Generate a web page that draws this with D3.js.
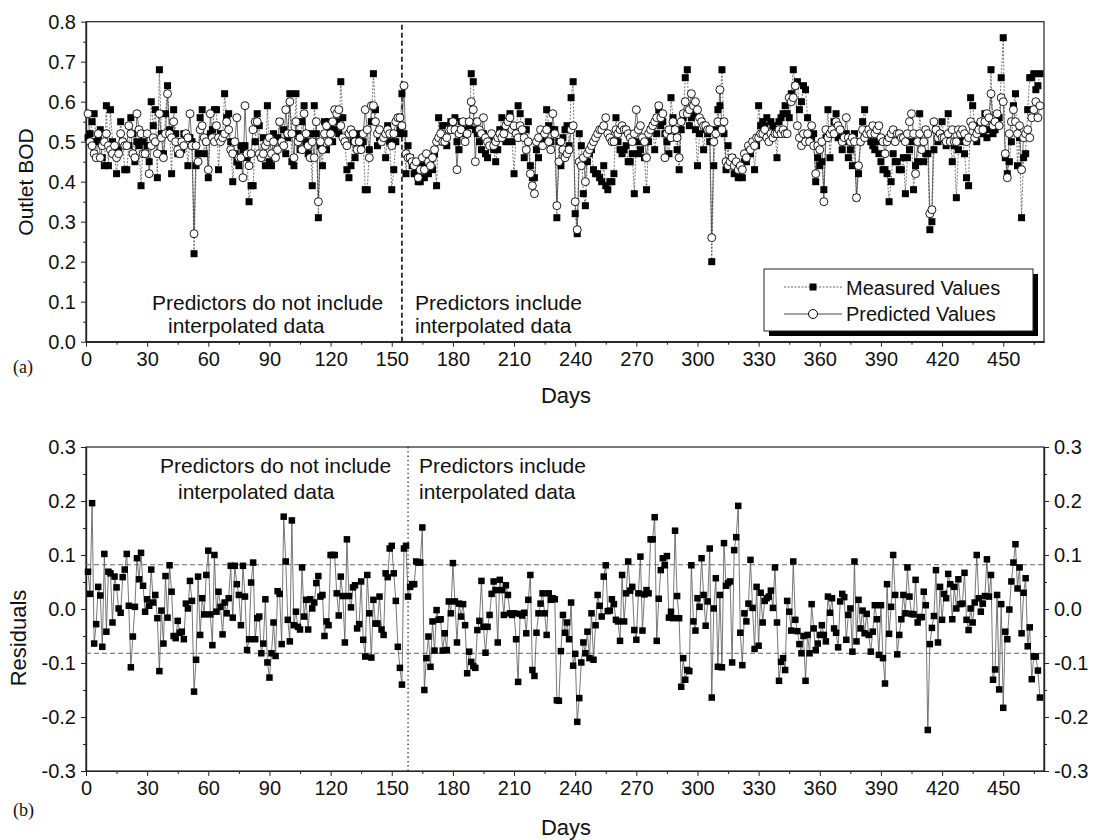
<!DOCTYPE html>
<html>
<head>
<meta charset="utf-8">
<script src="https://cdn.jsdelivr.net/npm/d3@7"></script>
<style>
body { margin: 0; background: #fff; }
svg text { font-family: "Liberation Sans", Arial, sans-serif; fill: #111; }
</style>
</head>
<body>
<div id="chart"></div>
<script>
// outlet BOD, one value per day (day 1 .. 468)
const measured = [
  .51,.52,.55,.57,.50,.51,.53,.46,.44,.59, .44,.58,.50,.47,.42,.48,.55,.50,.43,.43,
  .49,.56,.52,.45,.50,.49,.39,.50,.47,.49, .45,.60,.54,.58,.41,.68,.52,.47,.57,.64,
  .53,.42,.58,.52,.47,.47,.48,.52,.51,.44, .51,.50,.22,.44,.47,.56,.58,.47,.50,.41,
  .52,.53,.58,.58,.43,.52,.51,.62,.56,.57, .50,.40,.47,.45,.44,.49,.48,.49,.46,.35,
  .39,.39,.50,.57,.54,.46,.51,.44,.59,.45, .44,.52,.47,.51,.55,.50,.53,.47,.51,.62,
  .45,.44,.62,.52,.48,.55,.59,.50,.47,.52, .39,.59,.52,.31,.49,.44,.55,.48,.55,.53,
  .50,.53,.55,.52,.65,.56,.50,.43,.41,.44, .50,.46,.51,.52,.49,.50,.38,.38,.48,.55,
  .67,.58,.49,.51,.52,.51,.46,.54,.50,.38, .43,.50,.52,.53,.62,.52,.42,.49,.46,.44,
  .42,.43,.40,.40,.44,.41,.44,.42,.45,.43, .47,.39,.56,.50,.54,.54,.49,.53,.55,.54,
  .56,.50,.48,.55,.52,.53,.52,.54,.67,.65, .53,.52,.50,.48,.52,.47,.46,.50,.49,.48,
  .45,.48,.53,.56,.52,.50,.55,.57,.50,.42, .52,.59,.57,.51,.46,.53,.55,.44,.41,.41,
  .48,.46,.50,.50,.52,.58,.54,.50,.53,.53, .31,.50,.44,.51,.53,.54,.49,.61,.65,.32,
  .27,.52,.49,.37,.34,.45,.47,.48,.43,.42, .42,.41,.40,.44,.39,.38,.40,.40,.42,.56,
  .50,.48,.47,.48,.49,.45,.45,.47,.37,.50, .47,.48,.50,.46,.38,.50,.53,.54,.48,.52,
  .58,.54,.55,.52,.50,.47,.61,.56,.51,.48, .43,.53,.56,.66,.68,.54,.56,.57,.53,.44,
  .52,.55,.48,.53,.52,.50,.20,.44,.53,.58, .59,.68,.52,.43,.49,.44,.46,.42,.44,.41,
  .43,.41,.45,.45,.48,.47,.50,.43,.49,.59, .54,.55,.54,.56,.51,.55,.54,.53,.46,.55,
  .56,.57,.59,.57,.56,.62,.68,.64,.65,.58, .60,.64,.63,.56,.51,.51,.52,.40,.46,.44,
  .45,.38,.51,.58,.46,.52,.55,.57,.51,.53, .48,.50,.52,.46,.48,.44,.52,.36,.42,.50,
  .55,.58,.53,.52,.50,.49,.48,.50,.47,.45, .43,.43,.42,.35,.40,.47,.45,.45,.43,.43,
  .46,.37,.46,.48,.50,.38,.44,.45,.57,.50, .45,.47,.47,.28,.30,.48,.53,.50,.52,.55,
  .51,.49,.57,.50,.45,.49,.36,.48,.50,.51, .47,.41,.39,.61,.59,.54,.50,.52,.53,.52,
  .57,.51,.53,.68,.52,.53,.55,.56,.66,.76, .46,.42,.45,.50,.59,.62,.44,.51,.31,.46,
  .47,.58,.66,.66,.67,.63,.64,.67
];
const predicted = [
  .57,.50,.49,.47,.46,.52,.46,.49,.50,.52, .49,.48,.47,.49,.46,.47,.52,.50,.49,.49,
  .54,.52,.47,.46,.57,.53,.52,.47,.47,.52, .42,.49,.51,.50,.47,.57,.51,.46,.52,.62,
  .52,.51,.55,.50,.48,.47,.50,.49,.52,.51, .57,.49,.27,.49,.45,.53,.54,.51,.50,.43,
  .57,.51,.50,.54,.51,.50,.51,.52,.55,.53, .48,.47,.50,.56,.46,.46,.41,.59,.47,.44,
  .47,.53,.55,.55,.47,.46,.47,.49,.50,.51, .47,.50,.46,.48,.55,.50,.49,.58,.52,.60,
  .52,.46,.55,.50,.51,.48,.57,.52,.49,.46, .50,.46,.55,.35,.50,.48,.52,.54,.50,.52,
  .55,.58,.57,.58,.54,.51,.50,.49,.52,.53, .52,.50,.48,.50,.48,.52,.58,.53,.46,.59,
  .59,.55,.52,.53,.50,.51,.52,.53,.52,.49, .52,.55,.56,.56,.54,.64,.47,.46,.46,.45,
  .44,.45,.41,.43,.46,.43,.47,.45,.44,.46, .48,.50,.51,.52,.50,.50,.51,.53,.53,.55,
  .53,.43,.52,.53,.55,.50,.52,.55,.60,.58, .45,.55,.53,.52,.56,.51,.50,.49,.52,.49,
  .50,.51,.52,.51,.52,.54,.55,.56,.53,.54, .52,.51,.54,.53,.51,.48,.50,.42,.39,.37,
  .50,.51,.53,.49,.52,.53,.50,.48,.57,.52, .34,.45,.50,.48,.46,.47,.48,.53,.54,.35,
  .28,.45,.44,.46,.40,.47,.48,.49,.50,.51, .52,.53,.53,.54,.56,.52,.51,.50,.50,.53,
  .52,.53,.54,.53,.53,.52,.51,.50,.52,.58, .53,.54,.51,.50,.46,.52,.53,.54,.55,.56,
  .59,.56,.57,.46,.52,.53,.51,.55,.53,.51, .46,.55,.57,.60,.57,.58,.62,.59,.60,.58,
  .56,.55,.54,.54,.53,.53,.26,.50,.52,.55, .63,.53,.55,.45,.44,.45,.46,.44,.45,.43,
  .44,.43,.47,.46,.49,.48,.50,.49,.51,.51, .52,.52,.53,.51,.50,.52,.51,.52,.52,.53,
  .52,.53,.52,.52,.61,.60,.61,.64,.54,.51, .49,.52,.50,.52,.50,.54,.49,.42,.49,.48,
  .50,.35,.53,.51,.52,.53,.52,.55,.54,.53, .50,.51,.56,.51,.50,.51,.50,.36,.44,.50,
  .53,.51,.52,.53,.52,.54,.52,.53,.54,.51, .50,.47,.50,.51,.52,.53,.50,.52,.52,.51,
  .51,.50,.52,.55,.57,.52,.42,.50,.52,.48, .50,.53,.52,.32,.33,.55,.53,.51,.52,.51,
  .51,.50,.52,.50,.53,.50,.50,.53,.52,.53, .52,.50,.51,.55,.54,.51,.52,.53,.55,.53,
  .55,.57,.56,.62,.54,.55,.57,.54,.61,.60, .47,.41,.52,.55,.58,.55,.52,.54,.43,.51,
  .52,.53,.51,.56,.58,.60,.56,.59
];
const residuals = [
  .069,.028,.196,-.064,-.028,.041,.025,-.07,.102,-.042, .069,.066,-.025,.06,.04,.001,-.007,.059,.073,.102,
  .006,-.108,-.051,.004,.094,.055,.104,.043,-.005,.018, .006,.073,.012,.026,-.017,-.115,-.003,-.064,.061,-.016,
  .081,.032,-.05,-.054,-.022,-.044,-.042,-.056,.01,.001, .052,.015,-.153,-.094,.06,-.048,.02,-.01,.063,.108,
  -.01,-.067,.1,-.005,.032,.004,-.047,.012,-.008,.02, .08,-.016,.08,.046,.026,-.03,.08,.023,-.076,-.056,
  .049,.086,-.056,-.017,-.014,-.082,-.064,.018,-.099,-.127, -.082,-.025,-.087,.033,.028,-.065,.171,.088,-.02,-.06,
  .164,-.03,-.005,-.033,-.038,.077,-.014,.017,-.038,.018, .001,.012,.048,.061,.023,.026,-.05,-.023,-.03,.1,
  .1,.1,.029,-.012,.06,.024,-.062,.129,.024,.003, .04,.044,-.036,-.028,.051,-.057,-.088,.063,-.008,-.09,
  .017,-.027,-.027,.023,-.038,-.048,.066,.059,.112,.117, .066,.015,-.07,-.109,-.14,.112,.117,.023,.041,.046,
  .046,.088,.086,.086,.151,-.15,-.091,-.051,-.107,-.023, -.077,-.002,-.02,-.019,-.077,-.045,-.076,.014,-.008,.085,
  .014,-.062,.01,-.014,.009,-.03,-.119,-.079,-.098,-.106, -.109,-.039,-.022,.052,-.033,-.081,-.033,-.011,.028,.051,
  .035,-.062,.054,.035,-.011,.044,.026,-.008,-.011,-.008, -.056,-.135,-.009,-.012,-.007,-.045,.017,.063,-.113,-.124,
  -.044,-.008,.01,.029,-.008,-.048,.029,.017,.02,.018, -.169,-.17,-.078,-.011,-.044,-.025,-.056,.012,-.105,-.083,
  -.209,-.165,-.099,-.062,-.082,-.042,-.091,-.008,-.094,-.03, .026,.006,-.014,.06,.081,-.004,-.003,.018,.009,-.02,
  -.023,-.059,.063,-.023,.029,.088,.034,.041,-.039,-.057, .029,.097,-.04,.027,.035,.029,.129,.129,.17,-.059,
  .019,.072,.094,.081,.098,-.016,-.005,-.017,.145,.024, -.017,-.144,-.091,-.131,-.113,-.115,.081,-.023,-.04,.02,
  .004,.094,.026,-.031,.014,.112,-.164,.001,.057,-.107, .026,-.108,.122,.043,.048,.051,-.099,.109,.133,.191,
  -.044,-.104,-.008,-.023,.01,.091,.002,-.074,.041,-.068, .03,-.025,.015,.02,.023,.034,.002,.077,-.025,-.133,
  -.098,-.091,-.113,.015,-.005,-.04,.088,-.02,-.041,-.065, -.082,-.05,-.133,-.048,-.082,.009,-.036,-.076,-.064,-.048,
  -.03,-.048,-.06,.023,-.007,.02,-.036,-.044,-.071,.014, .028,.022,-.057,-.011,.001,-.079,.088,-.06,.017,-.036,
  -.003,-.045,-.009,-.048,-.079,-.042,.007,-.019,-.085,.007, -.091,-.138,.046,-.046,.004,.1,.026,-.084,-.048,-.019,
  .026,-.008,.077,.023,-.009,-.01,.054,-.025,-.015,-.015, .032,.007,-.224,-.065,-.035,-.013,.072,-.062,.041,-.02,
  .028,.02,.065,.046,-.019,.041,.001,.055,.009,.01, .067,-.02,-.039,.001,-.025,.012,.1,.02,-.005,.01,
  .024,.092,.023,.063,-.131,-.112,.026,-.149,.009,-.183, -.042,-.056,-.001,.051,.086,.12,.038,.077,-.045,.03,
  .057,-.069,-.034,-.13,-.088,-.088,-.114,-.164
];

const xTicks = [0, 30, 60, 90, 120, 150, 180, 210, 240, 270, 300, 330, 360, 390, 420, 450];
const yTopTicks = [0, 0.1, 0.2, 0.3, 0.4, 0.5, 0.6, 0.7, 0.8];
const yBotTicks = [-0.3, -0.2, -0.1, 0, 0.1, 0.2, 0.3];
const splitTop = 155;      // dashed divider, panel (a)
const splitBottom = 158;   // dotted divider, panel (b)
const resLimit = 0.082;    // dashed control limits, panel (b)
const seriesNames = ["Measured Values", "Predicted Values"];

const width = 1093, height = 840;
const svg = d3.select("#chart").append("svg")
    .attr("width", width)
    .attr("height", height);

const x = d3.scaleLinear().domain([0, 470]).range([86, 1044]);
const yTop = d3.scaleLinear().domain([0, 0.8]).range([341.7, 21.7]);
const yBot = d3.scaleLinear().domain([-0.3, 0.3]).range([771, 447]);
const fmt = d => d.toFixed(1);
const day = (d, i) => i + 1;

function styleAxis(g) {
    g.selectAll("text").style("font-size", "20px").attr("fill", "#111");
    g.selectAll("line").attr("stroke", "#222");
    g.select(".domain").attr("stroke", "#222").attr("stroke-width", 1.2);
}

function frame(yScale) {
    svg.append("rect")
        .attr("x", x.range()[0]).attr("y", yScale.range()[1])
        .attr("width", x.range()[1] - x.range()[0])
        .attr("height", yScale.range()[0] - yScale.range()[1])
        .attr("fill", "none").attr("stroke", "#222").attr("stroke-width", 1.2);
}

function xAxes(yScale) {
    const y0 = yScale.range()[0];
    svg.append("g").attr("transform", `translate(0,${y0})`)
        .call(d3.axisBottom(x).tickValues(d3.range(15, 470, 30)).tickSize(3).tickFormat("").tickSizeOuter(0))
        .call(styleAxis);
    svg.append("g").attr("transform", `translate(0,${y0})`)
        .call(d3.axisBottom(x).tickValues(xTicks).tickSize(5).tickPadding(5).tickFormat(d3.format("d")).tickSizeOuter(0))
        .call(styleAxis);
}

function yAxis(yScale, ticks, side) {
    const minor = d3.range(ticks.length - 1).map(i => (ticks[i] + ticks[i + 1]) / 2);
    const xp = side === "left" ? x.range()[0] : x.range()[1];
    const mk = side === "left" ? d3.axisLeft : d3.axisRight;
    svg.append("g").attr("transform", `translate(${xp},0)`)
        .call(mk(yScale).tickValues(minor).tickSize(3).tickFormat("").tickSizeOuter(0))
        .call(styleAxis);
    svg.append("g").attr("transform", `translate(${xp},0)`)
        .call(mk(yScale).tickValues(ticks).tickSize(5).tickPadding(5).tickFormat(fmt).tickSizeOuter(0))
        .call(styleAxis);
}

// ---------- panel (a)
frame(yTop);
xAxes(yTop);
yAxis(yTop, yTopTicks, "left");

svg.append("line")
    .attr("x1", x(splitTop)).attr("x2", x(splitTop))
    .attr("y1", yTop.range()[1] + 3).attr("y2", yTop.range()[0])
    .attr("stroke", "#111").attr("stroke-width", 1.6).attr("stroke-dasharray", "5,3");

const lineTop = d3.line().x((d, i) => x(day(d, i))).y(d => yTop(d));

svg.append("path").datum(measured)
    .attr("d", lineTop).attr("fill", "none")
    .attr("stroke", "#555").attr("stroke-width", 0.8).attr("stroke-dasharray", "2,1.5");
svg.append("path").datum(predicted)
    .attr("d", lineTop).attr("fill", "none")
    .attr("stroke", "#333").attr("stroke-width", 0.7);

const sq = 7;
svg.append("g").selectAll("rect").data(measured).join("rect")
    .attr("x", (d, i) => x(day(d, i)) - sq / 2)
    .attr("y", d => yTop(d) - sq / 2)
    .attr("width", sq).attr("height", sq)
    .attr("fill", "#000");

svg.append("g").selectAll("circle").data(predicted).join("circle")
    .attr("cx", (d, i) => x(day(d, i)))
    .attr("cy", d => yTop(d))
    .attr("r", 4)
    .attr("fill", "#fff").attr("stroke", "#000").attr("stroke-width", 0.9);

svg.append("text").attr("transform", "translate(33,182) rotate(-90)")
    .attr("text-anchor", "middle").style("font-size", "21px").text("Outlet BOD");
svg.append("text").attr("x", 566).attr("y", 403)
    .attr("text-anchor", "middle").style("font-size", "22px").text("Days");
svg.append("text").attr("x", 13).attr("y", 373)
    .style("font-family", "'Liberation Serif', 'Times New Roman', serif").style("font-size", "18px").text("(a)");

svg.append("text").attr("x", 152).attr("y", 310).style("font-size", "21px").text("Predictors do not include");
svg.append("text").attr("x", 168).attr("y", 333).style("font-size", "21px").text("interpolated data");
svg.append("text").attr("x", 415).attr("y", 310).style("font-size", "21px").text("Predictors include");
svg.append("text").attr("x", 415).attr("y", 333).style("font-size", "21px").text("interpolated data");

// legend
const lg = svg.append("g").attr("transform", "translate(764,269)");
lg.append("rect").attr("x", 5).attr("y", 5).attr("width", 269).attr("height", 62).attr("fill", "#000");
lg.append("rect").attr("width", 269).attr("height", 62).attr("fill", "#fff").attr("stroke", "#222").attr("stroke-width", 1);
lg.append("line").attr("x1", 20).attr("x2", 78).attr("y1", 18).attr("y2", 18)
    .attr("stroke", "#555").attr("stroke-width", 0.9).attr("stroke-dasharray", "2,1.5");
lg.append("rect").attr("x", 49 - sq / 2).attr("y", 18 - sq / 2).attr("width", sq).attr("height", sq).attr("fill", "#000");
lg.append("line").attr("x1", 20).attr("x2", 78).attr("y1", 45).attr("y2", 45)
    .attr("stroke", "#333").attr("stroke-width", 0.9);
lg.append("circle").attr("cx", 49).attr("cy", 45).attr("r", 4.5)
    .attr("fill", "#fff").attr("stroke", "#000").attr("stroke-width", 1);
lg.selectAll("text.lab").data(seriesNames).join("text")
    .attr("class", "lab")
    .attr("x", 82).attr("y", (d, i) => 26 + i * 26)
    .style("font-size", "20px").text(d => d);

// ---------- panel (b)
frame(yBot);
xAxes(yBot);
yAxis(yBot, yBotTicks, "left");
yAxis(yBot, yBotTicks, "right");

[resLimit, -resLimit].forEach(v => {
    svg.append("line")
        .attr("x1", x.range()[0]).attr("x2", x.range()[1])
        .attr("y1", yBot(v)).attr("y2", yBot(v))
        .attr("stroke", "#666").attr("stroke-width", 1).attr("stroke-dasharray", "5,3");
});

svg.append("line")
    .attr("x1", x(splitBottom)).attr("x2", x(splitBottom))
    .attr("y1", yBot.range()[1]).attr("y2", yBot.range()[0])
    .attr("stroke", "#222").attr("stroke-width", 1.3).attr("stroke-dasharray", "1.3,3");

svg.append("path").datum(residuals)
    .attr("d", d3.line().x((d, i) => x(day(d, i))).y(d => yBot(d)))
    .attr("fill", "none").attr("stroke", "#555").attr("stroke-width", 0.8);

const sq2 = 6.5;
svg.append("g").selectAll("rect").data(residuals).join("rect")
    .attr("x", (d, i) => x(day(d, i)) - sq2 / 2)
    .attr("y", d => yBot(d) - sq2 / 2)
    .attr("width", sq2).attr("height", sq2)
    .attr("fill", "#000");

svg.append("text").attr("transform", "translate(26,638) rotate(-90)")
    .attr("text-anchor", "middle").style("font-size", "22px").text("Residuals");
svg.append("text").attr("x", 566).attr("y", 835)
    .attr("text-anchor", "middle").style("font-size", "22px").text("Days");
svg.append("text").attr("x", 13).attr("y", 816)
    .style("font-family", "'Liberation Serif', 'Times New Roman', serif").style("font-size", "18px").text("(b)");

svg.append("text").attr("x", 160).attr("y", 473).style("font-size", "21px").text("Predictors do not include");
svg.append("text").attr("x", 178).attr("y", 499).style("font-size", "21px").text("interpolated data");
svg.append("text").attr("x", 419).attr("y", 473).style("font-size", "21px").text("Predictors include");
svg.append("text").attr("x", 419).attr("y", 499).style("font-size", "21px").text("interpolated data");
</script>
</body>
</html>
